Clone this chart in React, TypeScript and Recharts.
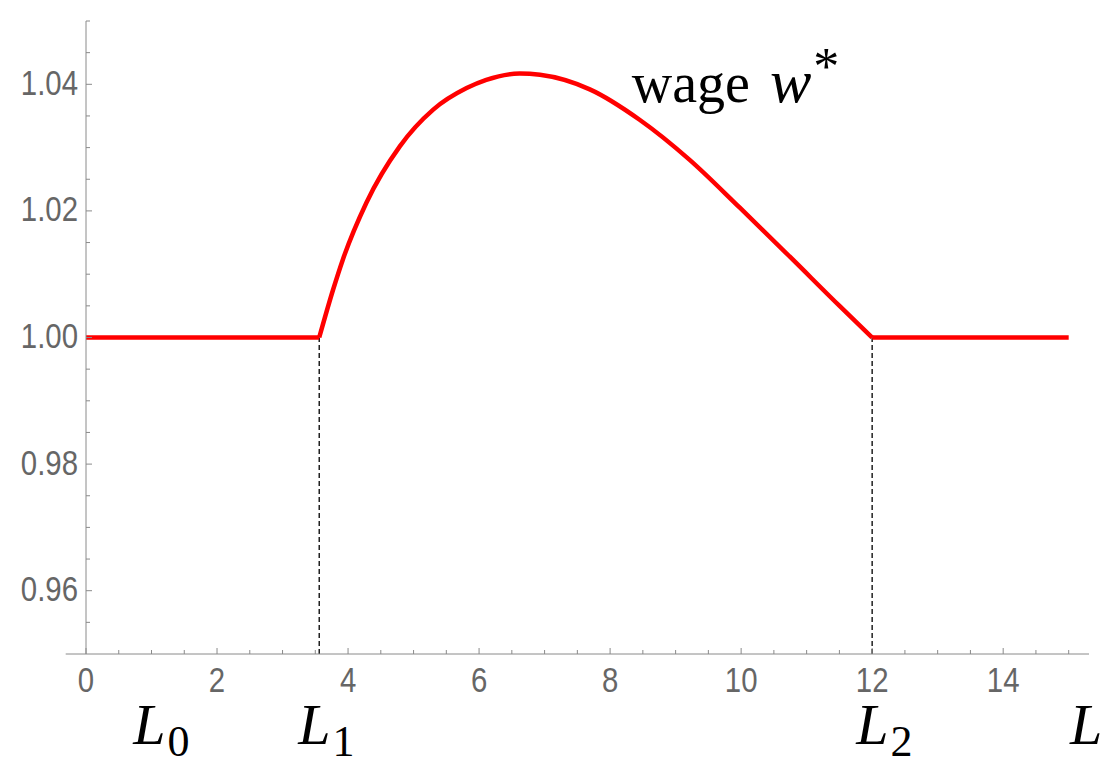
import React from 'react';
import { LineChart, Line, XAxis, YAxis, ReferenceLine, ReferenceDot } from 'recharts';

// Piecewise wage schedule w*(L): flat at 1 outside [L1, L2], hump in between
const L1 = 3.56;
const L2 = 12;
const flatL = [0, L1, L2, 15];
const curveL = [3.56, 3.77, 3.92, 4.28, 4.79, 5.3, 5.81, 6.11, 6.62, 6.93, 7.69, 8.45, 9.21, 9.98, 10.74, 11.51, 12.0];
const curveW = [1.0, 1.0075, 1.0123, 1.0213, 1.0302, 1.036, 1.0394, 1.0407, 1.0417, 1.0415, 1.0392, 1.0344, 1.0281, 1.0205, 1.0128, 1.0049, 1.0];

const xMajorTicks = [0, 2, 4, 6, 8, 10, 12, 14];
const xMinorTicks = [0.5, 1, 1.5, 2.5, 3, 3.5, 4.5, 5, 5.5, 6.5, 7, 7.5, 8.5, 9, 9.5, 10.5, 11, 11.5, 12.5, 13, 13.5, 14.5, 15];
const yMajorTicks = [0.96, 0.98, 1.0, 1.02, 1.04];
const yMinorTicks = [0.955, 0.965, 0.97, 0.975, 0.985, 0.99, 0.995, 1.005, 1.01, 1.015, 1.025, 1.03, 1.035, 1.045, 1.05];

type Row = { L: number; flat?: number | null; curve?: number | null };

const buildRows = (): Row[] => {
  const map = new Map<number, Row>();
  const inFlat = (l: number) => l <= L1 || l >= L2;
  curveL.forEach((l, i) => map.set(l, { L: l, curve: curveW[i], flat: null }));
  flatL.forEach((l) => {
    const r = map.get(l) || { L: l, curve: null };
    r.flat = 1.0;
    map.set(l, r);
  });
  const rows = Array.from(map.values()).sort((a, b) => a.L - b.L);
  rows.forEach((r) => {
    if (!inFlat(r.L)) r.flat = null;
  });
  return rows;
};
const rows = buildRows();

const AXIS = '#8a8a8a';
const TICK_TEXT = '#666666';
const TICK_FONT = '"Liberation Sans", Arial, sans-serif';
const MATH_FONT = '"Liberation Serif", "Times New Roman", serif';
// tick numerals are set in a condensed face
const NARROW = 0.84;

const isXMajor = (v: number) => xMajorTicks.some((t) => Math.abs(t - v) < 1e-9);
const isYMajor = (v: number) => yMajorTicks.some((t) => Math.abs(t - v) < 1e-9);

const XTick = (props: any) => {
  const { x, y, payload } = props;
  const major = isXMajor(payload.value);
  return (
    <g>
      <line x1={x} x2={x} y1={y} y2={y - (major ? 6 : 4)} stroke={AXIS} strokeWidth={1} />
      {major && (
        <text
          transform={`translate(${x},${y + 38}) scale(${NARROW},1)`}
          textAnchor="middle"
          fill={TICK_TEXT}
          fontSize={35}
          fontFamily={TICK_FONT}
        >
          {payload.value}
        </text>
      )}
    </g>
  );
};

const YTick = (props: any) => {
  const { x, y, payload } = props;
  const axisX = x + 8;
  const major = isYMajor(payload.value);
  return (
    <g>
      <line x1={axisX} x2={axisX + (major ? 6 : 4)} y1={y} y2={y} stroke={AXIS} strokeWidth={1} />
      {major && (
        <text
          transform={`translate(${x},${y + 10.5}) scale(${NARROW},1)`}
          textAnchor="end"
          fill={TICK_TEXT}
          fontSize={35}
          fontFamily={TICK_FONT}
        >
          {payload.value.toFixed(2)}
        </text>
      )}
    </g>
  );
};

// Axis symbol L with an upright subscript
const symbolLabel = (sub: string, dx: number) => (props: any) => {
  const { viewBox } = props;
  const x = viewBox.x + viewBox.width / 2 + dx;
  const y = viewBox.y + viewBox.height / 2 + 90;
  return (
    <text x={x} y={y} fill="#000" fontFamily={MATH_FONT}>
      <tspan fontStyle="italic" fontSize={58}>L</tspan>
      {sub && (
        <tspan fontSize={44} dx={2} dy={12}>
          {sub}
        </tspan>
      )}
    </text>
  );
};

const wageLabel = (props: any) => {
  const { viewBox } = props;
  const x = viewBox.x + viewBox.width / 2;
  const y = viewBox.y + viewBox.height / 2;
  return (
    <text x={x} y={y} fill="#000" fontFamily={MATH_FONT} fontSize={56}>
      <tspan>wage</tspan>
      <tspan fontStyle="italic" fontSize={62} dx={20}>w</tspan>
      <tspan fontSize={52} dx={2} dy={-18}>*</tspan>
    </text>
  );
};

export default function App() {
  return (
    <div style={{ position: 'absolute', left: 0, top: 0, background: '#fff' }}>
      <LineChart width={1112} height={765} data={rows} margin={{ top: 21, right: 23, bottom: 0, left: 0 }}>
        <XAxis
          type="number"
          dataKey="L"
          domain={[0, 15.31]}
          allowDataOverflow
          ticks={[...xMajorTicks, ...xMinorTicks].sort((a, b) => a - b)}
          interval={0}
          tick={<XTick />}
          tickLine={false}
          tickSize={0}
          tickMargin={0}
          height={111}
          axisLine={{ stroke: AXIS, strokeWidth: 1 }}
        />
        <YAxis
          type="number"
          domain={[0.95, 1.05]}
          allowDataOverflow
          ticks={[...yMajorTicks, ...yMinorTicks].sort((a, b) => a - b)}
          interval={0}
          tick={<YTick />}
          tickLine={false}
          tickSize={0}
          tickMargin={8}
          width={86}
          axisLine={{ stroke: AXIS, strokeWidth: 1 }}
        />
        {/* x axis continues a little to the left of the y axis */}
        <ReferenceLine
          segment={[{ x: -0.31, y: 0.95 }, { x: 0, y: 0.95 }]}
          stroke={AXIS}
          strokeWidth={1}
          ifOverflow="visible"
        />
        <ReferenceLine
          segment={[{ x: L1, y: 0.95 }, { x: L1, y: 1.0 }]}
          stroke="#111"
          strokeWidth={1.4}
          strokeDasharray="5 3"
        />
        <ReferenceLine
          segment={[{ x: L2, y: 0.95 }, { x: L2, y: 1.0 }]}
          stroke="#111"
          strokeWidth={1.4}
          strokeDasharray="5 3"
        />
        <Line
          dataKey="flat"
          type="linear"
          stroke="#ff0000"
          strokeWidth={4.5}
          dot={false}
          activeDot={false}
          connectNulls={false}
          isAnimationActive={false}
        />
        <Line
          dataKey="curve"
          type="monotone"
          stroke="#ff0000"
          strokeWidth={4.5}
          dot={false}
          activeDot={false}
          connectNulls={false}
          strokeLinejoin="round"
          isAnimationActive={false}
        />
        <ReferenceDot x={0.72} y={0.95} r={0} fill="none" stroke="none" ifOverflow="visible" label={symbolLabel('0', 0)} />
        <ReferenceDot x={L1} y={0.95} r={0} fill="none" stroke="none" ifOverflow="visible" label={symbolLabel('1', -21)} />
        <ReferenceDot x={L2} y={0.95} r={0} fill="none" stroke="none" ifOverflow="visible" label={symbolLabel('2', -16)} />
        <ReferenceDot x={15.02} y={0.95} r={0} fill="none" stroke="none" ifOverflow="visible" label={symbolLabel('', 0)} />
        <ReferenceDot x={8.33} y={1.0372} r={0} fill="none" stroke="none" ifOverflow="visible" label={wageLabel} />
      </LineChart>
    </div>
  );
}
